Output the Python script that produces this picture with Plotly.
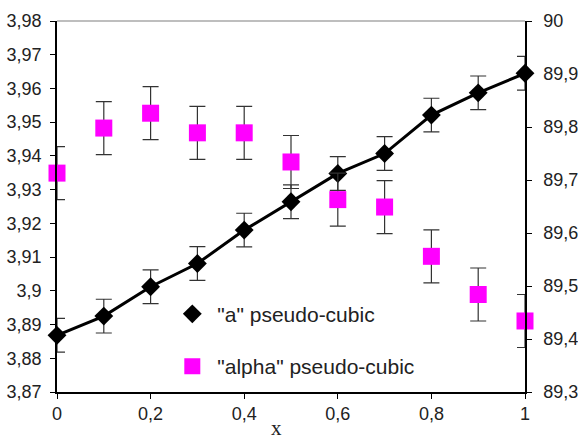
import plotly.graph_objects as go

x_vals = [0, 0.1, 0.2, 0.3, 0.4, 0.5, 0.6, 0.7, 0.8, 0.9, 1.0]
a_vals = [3.8868, 3.8925, 3.9012, 3.9081, 3.9180, 3.9264, 3.9348, 3.9407, 3.9521, 3.9587, 3.9645]
a_err = [0.005] * 11
alpha_vals = [89.713, 89.798, 89.826, 89.789, 89.789, 89.734, 89.663, 89.649, 89.556, 89.484, 89.434]
alpha_err = [0.05] * 11

font_family = "Liberation Sans, Arial, sans-serif"

fig = go.Figure()

fig.add_trace(go.Scatter(
    x=x_vals, y=a_vals, mode="lines", line=dict(color="black", width=3),
    showlegend=False, hoverinfo="skip", yaxis="y", cliponaxis=False))

fig.add_trace(go.Scatter(
    x=x_vals, y=a_vals, mode="markers", name='"a" pseudo-cubic',
    marker=dict(symbol="diamond", size=14.5, color="black"),
    error_y=dict(type="data", array=a_err, color="#333333", thickness=1.2, width=8),
    legendgroup="a", yaxis="y", cliponaxis=False))

fig.add_trace(go.Scatter(
    x=x_vals, y=alpha_vals, mode="markers", name='"alpha" pseudo-cubic',
    marker=dict(symbol="square", size=17, color="#FF00FF"),
    error_y=dict(type="data", array=alpha_err, color="#333333", thickness=1.2, width=8),
    legendgroup="b", yaxis="y2", cliponaxis=False))

axis_common = dict(showgrid=False, zeroline=False, showline=True, linecolor="black",
                   linewidth=1.5, ticks="outside", ticklen=5, tickcolor="black",
                   tickwidth=1.2, automargin=False)

fig.update_layout(
    width=578, height=443,
    margin=dict(l=57, r=53, t=21, b=51),
    paper_bgcolor="white", plot_bgcolor="white",
    separators=",.",
    font=dict(family=font_family, size=18, color="#222222"),
    showlegend=True,
    legend=dict(
        x=0.2357, y=0.265, xanchor="left", yanchor="top",
        bgcolor="rgba(0,0,0,0)", font=dict(size=21, color="#222222"),
        traceorder="grouped", tracegroupgap=22, itemwidth=40),
    xaxis=dict(range=[0, 1], dtick=0.2, tick0=0, **axis_common),
    yaxis=dict(range=[3.87, 3.98], dtick=0.01, tick0=3.87, ticklabelstandoff=5, **axis_common),
    yaxis2=dict(range=[89.3, 90], dtick=0.1, tick0=89.3, overlaying="y", side="right",
                ticklabelstandoff=8, **axis_common),
    yaxis3=dict(
        range=[89.3, 90], dtick=0.1, tick0=89.3, overlaying="y", side="right",
        showgrid=False, zeroline=False, showline=False, showticklabels=False,
        ticks="inside", ticklen=5, tickcolor="black", tickwidth=1.2, automargin=False),
    shapes=[dict(type="line", xref="paper", yref="paper", x0=0, x1=1, y0=1, y1=1,
                 line=dict(color="#a8a8a8", width=1.5))],
    annotations=[dict(text="x", xref="paper", yref="paper", x=0.47, y=-0.1356,
                      xanchor="center", yanchor="bottom", showarrow=False,
                      font=dict(family="Liberation Serif, Times New Roman, serif",
                                size=21, color="#222222"))],
)

fig.write_html("out.html", config={"displayModeBar": False},
               post_script="document.body.style.margin='0px';document.body.style.overflow='hidden';")
